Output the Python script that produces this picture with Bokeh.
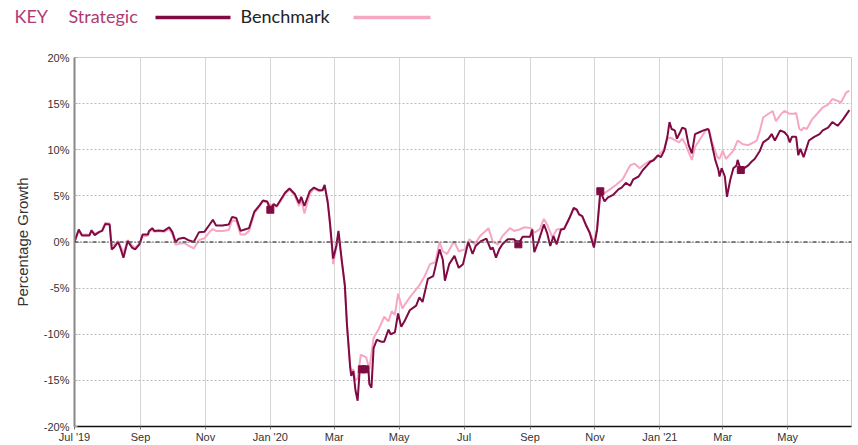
import pandas as pd
from bokeh.plotting import figure
from bokeh.layouts import column
from bokeh.models import Range1d, FixedTicker, Span, ColumnDataSource
from bokeh.core.properties import value
from bokeh.embed import file_html
from bokeh.resources import INLINE

# ---------------- data ----------------
strategic_dates = [
    "2019-07-01", "2019-07-05", "2019-07-08", "2019-07-15", "2019-07-17", "2019-07-20", "2019-07-24", "2019-07-27",
    "2019-07-30", "2019-08-03", "2019-08-05", "2019-08-07", "2019-08-11", "2019-08-13", "2019-08-16", "2019-08-20",
    "2019-08-24", "2019-08-27", "2019-08-31", "2019-09-03", "2019-09-08", "2019-09-09", "2019-09-12", "2019-09-14",
    "2019-09-18", "2019-09-23", "2019-09-28", "2019-10-01", "2019-10-04", "2019-10-07", "2019-10-12", "2019-10-16",
    "2019-10-21", "2019-10-26", "2019-10-31", "2019-11-05", "2019-11-08", "2019-11-11", "2019-11-17", "2019-11-23",
    "2019-11-26", "2019-11-30", "2019-12-04", "2019-12-08", "2019-12-12", "2019-12-17", "2019-12-22", "2019-12-25",
    "2019-12-29", "2020-01-01", "2020-01-04", "2020-01-07", "2020-01-15", "2020-01-19", "2020-01-24", "2020-01-28",
    "2020-01-30", "2020-02-02", "2020-02-07", "2020-02-11", "2020-02-16", "2020-02-19", "2020-02-21", "2020-02-24",
    "2020-02-26", "2020-02-29", "2020-03-03", "2020-03-05", "2020-03-08", "2020-03-11", "2020-03-13", "2020-03-16",
    "2020-03-17", "2020-03-19", "2020-03-21", "2020-03-23", "2020-03-25", "2020-03-31", "2020-04-02", "2020-04-03",
    "2020-04-05", "2020-04-07", "2020-04-10", "2020-04-14", "2020-04-17", "2020-04-21", "2020-04-23", "2020-04-27",
    "2020-04-30", "2020-05-03", "2020-05-06", "2020-05-11", "2020-05-17", "2020-05-20", "2020-05-23", "2020-05-28",
    "2020-06-02", "2020-06-08", "2020-06-11", "2020-06-13", "2020-06-17", "2020-06-22", "2020-06-26", "2020-06-30",
    "2020-07-05", "2020-07-09", "2020-07-12", "2020-07-17", "2020-07-22", "2020-07-26", "2020-07-28", "2020-07-31",
    "2020-08-03", "2020-08-06", "2020-08-11", "2020-08-17", "2020-08-21", "2020-08-25", "2020-09-01", "2020-09-03",
    "2020-09-05", "2020-09-09", "2020-09-14", "2020-09-17", "2020-09-20", "2020-09-23", "2020-09-26", "2020-09-30",
    "2020-10-03", "2020-10-08", "2020-10-12", "2020-10-15", "2020-10-17", "2020-10-20", "2020-10-24", "2020-10-27",
    "2020-10-31", "2020-11-03", "2020-11-06", "2020-11-10", "2020-11-13", "2020-11-18", "2020-11-23", "2020-11-26",
    "2020-11-30", "2020-12-04", "2020-12-07", "2020-12-12", "2020-12-16", "2020-12-20", "2020-12-23", "2020-12-26",
    "2020-12-30", "2021-01-02", "2021-01-05", "2021-01-08", "2021-01-10", "2021-01-12", "2021-01-15", "2021-01-17",
    "2021-01-20", "2021-01-22", "2021-01-25", "2021-01-28", "2021-01-31", "2021-02-03", "2021-02-07", "2021-02-11",
    "2021-02-15", "2021-02-16", "2021-02-19", "2021-02-22", "2021-02-25", "2021-02-26", "2021-02-28", "2021-03-03",
    "2021-03-05", "2021-03-08", "2021-03-11", "2021-03-14", "2021-03-15", "2021-03-18", "2021-03-20", "2021-03-25",
    "2021-03-28", "2021-03-31", "2021-04-05", "2021-04-08", "2021-04-13", "2021-04-16", "2021-04-19", "2021-04-24",
    "2021-04-28", "2021-05-01", "2021-05-03", "2021-05-05", "2021-05-09", "2021-05-11", "2021-05-13", "2021-05-16",
    "2021-05-21", "2021-05-26", "2021-05-31", "2021-06-03", "2021-06-08", "2021-06-12", "2021-06-17", "2021-06-22",
    "2021-06-28",
]
strategic_values = [
    0.0, 1.36, 0.7, 0.7, 1.25, 0.75, 1.07, 1.2,
    1.96, 1.9, -0.8, -0.6, 0.0, -0.6, -1.7, 0.1,
    -0.6, -0.8, -0.25, 0.8, 0.8, 1.2, 1.5, 1.2,
    1.25, 1.2, 1.6, 1.07, 0.0, 0.36, 0.46, 0.2,
    0.0, 1.07, 1.1, 1.9, 2.4, 1.8, 1.8, 1.9,
    2.7, 2.6, 1.2, 1.36, 1.5, 3.3, 4.0, 4.5,
    4.4, 3.5, 4.1, 3.9, 5.36, 5.8, 5.2, 4.2,
    4.9, 3.9, 5.5, 5.9, 5.6, 5.6, 6.2, 4.2,
    2.1, -1.8, -0.4, 1.2, -1.9, -4.7, -9.0, -13.6,
    -14.5, -14.0, -16.1, -17.2, -13.8, -13.8, -13.5, -15.4,
    -15.8, -11.5, -10.6, -10.8, -10.8, -9.5, -10.0, -9.8,
    -7.75, -9.2, -8.6, -7.4, -6.9, -6.0, -6.5, -4.0,
    -3.7, -0.8, -1.9, -4.2, -2.4, -1.5, -2.8, -2.4,
    0.0, -1.3, -0.4, 0.1, 0.36, -0.8, -0.6, -1.7,
    -0.8, -0.25, 0.3, 0.3, -0.25, 0.57, 0.57, 1.36,
    -1.1, 0.1, 1.9, 1.0, -0.43, 0.64, -0.25, 1.36,
    1.4, 2.6, 3.7, 3.5, 3.0, 2.8, 1.7, 1.0,
    -0.6, 1.36, 5.5, 4.4, 4.8, 5.1, 5.7, 5.9,
    6.4, 6.1, 6.8, 7.1, 7.8, 8.3, 8.7, 8.86,
    9.4, 9.2, 9.9, 11.4, 13.0, 12.25, 12.1, 11.2,
    11.9, 12.4, 12.25, 10.5, 9.6, 11.7, 11.9, 12.1,
    12.25, 12.1, 10.5, 8.9, 7.8, 7.1, 8.0, 7.1,
    4.9, 6.7, 8.0, 8.3, 8.9, 7.8, 7.9, 8.3,
    8.7, 9.0, 9.9, 10.8, 11.2, 11.7, 11.0, 12.1,
    11.9, 11.5, 10.8, 11.4, 11.4, 9.4, 10.1, 9.2,
    11.0, 11.4, 11.7, 12.1, 12.4, 13.0, 12.6, 13.3,
    14.3,
]

benchmark_dates = [
    "2019-07-01", "2019-07-05", "2019-07-08", "2019-07-15", "2019-07-17", "2019-07-20", "2019-07-24", "2019-07-27",
    "2019-07-30", "2019-08-03", "2019-08-05", "2019-08-07", "2019-08-11", "2019-08-13", "2019-08-16", "2019-08-20",
    "2019-08-24", "2019-08-27", "2019-08-31", "2019-09-03", "2019-09-08", "2019-09-09", "2019-09-12", "2019-09-14",
    "2019-09-18", "2019-09-23", "2019-09-28", "2019-10-01", "2019-10-04", "2019-10-07", "2019-10-12", "2019-10-16",
    "2019-10-21", "2019-10-26", "2019-10-31", "2019-11-05", "2019-11-08", "2019-11-11", "2019-11-17", "2019-11-23",
    "2019-11-26", "2019-11-30", "2019-12-04", "2019-12-08", "2019-12-12", "2019-12-17", "2019-12-22", "2019-12-25",
    "2019-12-29", "2020-01-01", "2020-01-04", "2020-01-07", "2020-01-15", "2020-01-19", "2020-01-24", "2020-01-28",
    "2020-01-30", "2020-02-02", "2020-02-07", "2020-02-11", "2020-02-16", "2020-02-19", "2020-02-21", "2020-02-24",
    "2020-02-26", "2020-02-29", "2020-03-03", "2020-03-05", "2020-03-08", "2020-03-11", "2020-03-13", "2020-03-16",
    "2020-03-17", "2020-03-19", "2020-03-21", "2020-03-23", "2020-03-26", "2020-03-31", "2020-04-03", "2020-04-07",
    "2020-04-12", "2020-04-17", "2020-04-21", "2020-04-24", "2020-04-27", "2020-04-30", "2020-05-04", "2020-05-08",
    "2020-05-11", "2020-05-20", "2020-05-25", "2020-05-30", "2020-06-04", "2020-06-08", "2020-06-11", "2020-06-15",
    "2020-06-20", "2020-06-22", "2020-06-26", "2020-07-02", "2020-07-06", "2020-07-11", "2020-07-16", "2020-07-24",
    "2020-07-28", "2020-08-02", "2020-08-06", "2020-08-13", "2020-08-17", "2020-08-22", "2020-08-27", "2020-09-02",
    "2020-09-05", "2020-09-10", "2020-09-14", "2020-09-17", "2020-09-22", "2020-09-26", "2020-09-30", "2020-10-03",
    "2020-10-08", "2020-10-12", "2020-10-15", "2020-10-17", "2020-10-20", "2020-10-24", "2020-10-27", "2020-10-31",
    "2020-11-03", "2020-11-06", "2020-11-10", "2020-11-15", "2020-11-21", "2020-11-27", "2020-12-04", "2020-12-08",
    "2020-12-13", "2020-12-16", "2020-12-21", "2020-12-26", "2020-12-31", "2021-01-05", "2021-01-08", "2021-01-11",
    "2021-01-16", "2021-01-19", "2021-01-22", "2021-01-25", "2021-01-28", "2021-01-31", "2021-02-03", "2021-02-08",
    "2021-02-13", "2021-02-16", "2021-02-19", "2021-02-24", "2021-02-26", "2021-03-01", "2021-03-04", "2021-03-11",
    "2021-03-15", "2021-03-20", "2021-03-25", "2021-03-30", "2021-04-02", "2021-04-05", "2021-04-08", "2021-04-13",
    "2021-04-17", "2021-04-20", "2021-04-25", "2021-04-28", "2021-05-03", "2021-05-07", "2021-05-09", "2021-05-12",
    "2021-05-14", "2021-05-16", "2021-05-19", "2021-05-24", "2021-05-31", "2021-06-03", "2021-06-08", "2021-06-12",
    "2021-06-17", "2021-06-20", "2021-06-25", "2021-06-28",
]
benchmark_values = [
    0.0, 1.2, 0.8, 0.8, 1.3, 0.9, 1.1, 1.3,
    2.1, 2.0, -0.4, -0.3, 0.1, -0.4, -1.2, 0.2,
    -0.4, -0.6, -0.2, 0.6, 0.7, 1.1, 1.3, 1.1,
    1.2, 1.1, 1.4, 0.8, -0.3, -0.2, -0.1, -0.4,
    -0.7, 0.2, 0.4, 1.1, 1.4, 1.2, 1.2, 1.3,
    2.3, 2.3, 0.8, 0.8, 1.2, 3.1, 3.9, 4.4,
    4.3, 4.0, 4.1, 3.8, 5.2, 5.7, 5.0, 3.9,
    4.6, 3.1, 5.2, 5.8, 5.5, 5.6, 6.0, 4.5,
    2.0, -2.4, -0.6, 0.9, -2.0, -4.8, -9.0, -13.4,
    -14.0, -13.8, -15.0, -14.8, -12.2, -12.5, -13.8, -10.4,
    -9.4, -8.1, -8.6, -7.5, -7.9, -5.6, -7.2, -6.5,
    -6.0, -4.7, -3.7, -2.4, -2.2, 0.0, -1.0, -1.3,
    -0.25, 0.0, -1.0, -0.8, 0.3, -0.25, 0.64, 1.5,
    0.0, -0.25, 0.64, 1.5, 1.2, 1.36, 1.6, 1.5,
    1.0, 1.36, 2.5, 1.9, 0.5, 1.36, 1.4, 1.5,
    2.6, 3.6, 3.4, 3.0, 2.8, 1.8, 1.1, -0.1,
    1.5, 5.0, 5.3, 5.7, 6.2, 6.8, 8.3, 8.5,
    8.0, 8.3, 8.7, 8.9, 9.4, 10.1, 11.2, 11.3,
    11.0, 10.8, 11.2, 10.6, 9.75, 8.9, 10.3, 11.2,
    12.1, 12.25, 10.8, 9.2, 9.0, 9.9, 9.0, 9.9,
    11.0, 10.6, 10.5, 10.8, 11.0, 12.1, 13.5, 13.9,
    14.2, 13.1, 13.9, 14.2, 13.9, 13.9, 14.0, 12.25,
    12.1, 12.4, 12.25, 13.3, 14.2, 14.6, 14.9, 15.5,
    15.3, 15.1, 16.2, 16.4,
]

marker_dates = ["2020-01-01", "2020-03-27", "2020-03-30", "2020-08-21", "2020-11-06", "2021-03-18"]
marker_values = [3.5, -13.8, -13.8, -0.25, 5.5, 7.8]

tick_dates = ["2019-07-01", "2019-09-01", "2019-11-01", "2020-01-01", "2020-03-01", "2020-05-01",
              "2020-07-01", "2020-09-01", "2020-11-01", "2021-01-01", "2021-03-01", "2021-05-01"]
tick_labels = ["Jul '19", "Sep", "Nov", "Jan '20", "Mar", "May",
               "Jul", "Sep", "Nov", "Jan '21", "Mar", "May"]
y_ticks = [-20, -15, -10, -5, 0, 5, 10, 15, 20]

series_names = ["Strategic", "Benchmark"]

# ---------------- style ----------------
C_STRAT = "#800a42"
C_BENCH = "#f6a7c3"
C_KEY = "#b03a72"
TICK_FONT = "Liberation Sans"

W, H = 858, 445
H_LEG = 36
H_MAIN = H - H_LEG
FL, FR, FT, FB = 74, 851, 57, 430   # frame edges on the page

# ---------------- legend strip (own figure, canvas-pixel coordinates) ----------------
leg = figure(width=W, height=H_LEG, x_range=Range1d(0, W), y_range=Range1d(H_LEG, 0),
             output_backend="svg", toolbar_location=None, min_border=0)
try:
    leg.frame_align = False
except Exception:
    pass
leg.axis.visible = False
leg.grid.visible = False
leg.outline_line_color = None
leg_y = 15
leg.text(x=[14, 68], y=[leg_y, leg_y], text=["KEY", series_names[0]], text_color=C_KEY,
         text_font=value("Lato"), text_font_size="18px", text_baseline="middle")
leg.text(x=[240], y=[leg_y], text=[series_names[1]], text_color="#222222",
         text_font=value("Lato"), text_font_size="18px", text_baseline="middle")
leg.line(x=[155, 230], y=[leg_y + 2, leg_y + 2], line_color=C_STRAT, line_width=3.5)
leg.line(x=[353, 430], y=[leg_y + 2, leg_y + 2], line_color=C_BENCH, line_width=3.5)

# ---------------- main chart ----------------
sd = pd.to_datetime(strategic_dates)
bd = pd.to_datetime(benchmark_dates)
md = pd.to_datetime(marker_dates)
td = pd.to_datetime(tick_dates)

p = figure(width=W, height=H_MAIN, x_axis_type="datetime",
           x_range=Range1d(pd.Timestamp("2019-07-01"), pd.Timestamp("2021-06-30")),
           y_range=Range1d(-20, 20),
           output_backend="svg", toolbar_location=None,
           min_border_left=FL, min_border_right=W - FR,
           min_border_top=FT - H_LEG, min_border_bottom=H - FB)
try:
    p.frame_align = False
except Exception:
    pass

p.outline_line_color = "#cccccc"

tick_ms = [int(t.value // 10**6) for t in td]
p.xaxis.ticker = FixedTicker(ticks=tick_ms)
p.xaxis.major_label_overrides = {m: l for m, l in zip(tick_ms, tick_labels)}
p.yaxis.ticker = FixedTicker(ticks=y_ticks)
p.yaxis.major_label_overrides = {v: f"{v}%" for v in y_ticks}

for ax in (p.xaxis[0], p.yaxis[0]):
    ax.major_label_text_font = TICK_FONT
    ax.major_label_text_font_size = "11px"
    ax.major_label_text_color = "#333333"
    ax.minor_tick_line_color = None

p.xaxis.axis_line_color = "#111111"
p.xaxis.axis_line_width = 1.5
p.xaxis.major_tick_line_color = "#777777"
p.xaxis.major_tick_in = 0
p.xaxis.major_tick_out = 3
p.xaxis.major_label_standoff = 1

p.yaxis.axis_line_color = "#888888"
p.yaxis.axis_line_width = 2
p.yaxis.major_tick_line_color = "#aaaaaa"
p.yaxis.major_tick_in = 3
p.yaxis.major_tick_out = 0
p.yaxis.major_label_standoff = 5
p.yaxis.axis_label = "Percentage Growth"
p.yaxis.axis_label_text_font = TICK_FONT
p.yaxis.axis_label_text_font_style = "normal"
p.yaxis.axis_label_text_font_size = "15px"
p.yaxis.axis_label_text_color = "#333333"
p.yaxis.axis_label_standoff = 10

p.xgrid.grid_line_color = "#d6d6d6"
p.xgrid.grid_line_width = 1
p.ygrid.grid_line_color = "#bbbbbb"
p.ygrid.grid_line_dash = "2 2"
p.ygrid.grid_line_width = 1

p.add_layout(Span(location=0, dimension="width", line_color="#555555",
                  line_dash="4 2 1 2", line_width=1.3))

src_b = ColumnDataSource(dict(x=bd, y=benchmark_values))
src_s = ColumnDataSource(dict(x=sd, y=strategic_values))
src_m = ColumnDataSource(dict(x=md, y=marker_values))
p.line("x", "y", source=src_b, line_color=C_BENCH, line_width=2)
p.line("x", "y", source=src_s, line_color=C_STRAT, line_width=2)
p.scatter("x", "y", source=src_m, marker="square", size=7, fill_color=C_STRAT, line_color=C_STRAT)

layout = column(leg, p, spacing=0)
open("out.html", "w").write(file_html(layout, INLINE))
